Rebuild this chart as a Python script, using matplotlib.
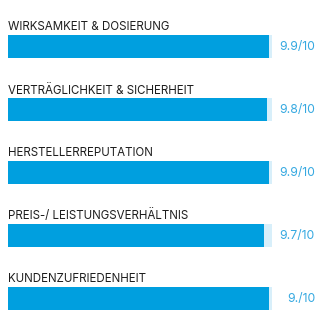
import matplotlib
matplotlib.use("Agg")
import matplotlib.pyplot as plt

# daten
labels = ["WIRKSAMKEIT & DOSIERUNG", "VERTRÄGLICHKEIT & SICHERHEIT",
          "HERSTELLERREPUTATION", "PREIS-/ LEISTUNGSVERHÄLTNIS",
          "KUNDENZUFRIEDENHEIT"]
values = [9.9, 9.8, 9.9, 9.7, 9.9]
value_texts = ["9.9/10", "9.8/10", "9.9/10", "9.7/10", "9./10"]
max_value = 10

W, H = 322, 331
bar_col = "#009fdf"
track_col = "#d8effa"
text_col = "#1e1e1e"
val_col = "#36a9e1"

fig = plt.figure(figsize=[W / 100, H / 100], dpi=100)
ax = fig.add_axes([8 / W, 0, 264 / W, 1])
ax.set_xlim(0, max_value)
ax.set_ylim((H - 46.5) / 63, -46.5 / 63)
ax.axis("off")

h = 23 / 63
y = list(range(len(labels)))
ax.barh(y, [max_value] * len(y), height=h, color=track_col)
ax.barh(y, values, height=h, color=bar_col)
for i in y:
    ax.text(0, i - h / 2 - 4.5 / 63, labels[i], fontsize=8.3, color=text_col,
            family="Inter", va="baseline", ha="left")
    ax.text((315 - 8) / 26.4, i + 0.01, value_texts[i], fontsize=8.8, color=val_col,
            family="Inter", va="center", ha="right", clip_on=False)

fig.savefig("out.png", dpi=100)
